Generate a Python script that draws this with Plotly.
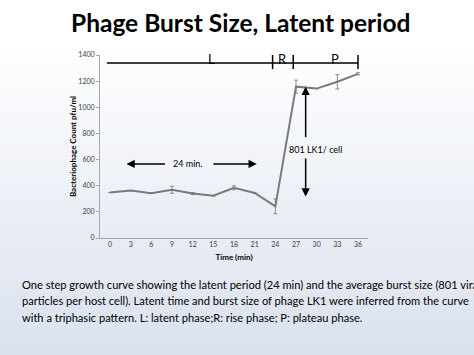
import plotly.graph_objects as go

# ---- data ----
time_min = [0, 3, 6, 9, 12, 15, 18, 21, 24, 27, 30, 33, 36]
count_pfu = [348, 363, 343, 369, 340, 323, 384, 344, 242, 1158, 1143, 1195, 1256]
err_pfu = [0, 0, 0, 27, 8, 0, 15, 0, 57, 50, 0, 55, 8]
x_ticks = [0, 3, 6, 9, 12, 15, 18, 21, 24, 27, 30, 33, 36]
y_ticks = [0, 200, 400, 600, 800, 1000, 1200, 1400]
phase_labels = ["L", "R", "P"]

W, H = 474, 355
ML, MR, MT, MB = 100, 106, 55, 117
PW, PH = W - ML - MR, H - MT - MB

def py(px):  # pixel y -> paper y
    return (H - MB - px) / PH

def pxx(px):  # pixel x -> paper x
    return (px - ML) / PW

FONT = "Lato"
fig = go.Figure()

fig.add_trace(go.Scatter(
    x=time_min, y=count_pfu, mode="lines",
    line=dict(color="#7a7a7a", width=2),
    error_y=dict(type="data", array=err_pfu, visible=True,
                 color="#8c8c8c", thickness=1, width=2),
    hoverinfo="skip", showlegend=False,
))

shapes = []
# background gradient (white top -> light blue-grey bottom)
n = 40
top_px, bot_px = 40, H
c0, c1 = (255, 255, 255), (218, 225, 238)
for i in range(n):
    a = top_px + (bot_px - top_px) * i / n
    b = top_px + (bot_px - top_px) * (i + 1) / n
    t = (i + 0.5) / n
    col = tuple(round(c0[k] + (c1[k] - c0[k]) * t) for k in range(3))
    shapes.append(dict(type="rect", xref="paper", yref="paper",
                       x0=pxx(0), x1=pxx(W), y0=py(b + 0.5), y1=py(a),
                       fillcolor="rgb(%d,%d,%d)" % col,
                       line=dict(width=0), layer="below"))

# phase bracket
blk = dict(color="black", width=1.5)
shapes.append(dict(type="line", xref="x", yref="y", x0=-0.45, x1=36, y0=1338, y1=1338, line=blk))
for xv in (23.6, 26.6, 36):
    shapes.append(dict(type="line", xref="x", yref="y", x0=xv, x1=xv, y0=1292, y1=1400, line=blk))

annotations = []
# phase labels
for lab, xv in zip(phase_labels, (14.8, 25.0, 32.6)):
    annotations.append(dict(x=xv, y=1372, xref="x", yref="y", text=lab, showarrow=False,
                            xanchor="center", yanchor="middle",
                            font=dict(family=FONT, size=13, color="black")))

def arrow(x0, y0, x1, y1):
    annotations.append(dict(x=x1, y=y1, ax=x0, ay=y0, xref="x", yref="y", axref="x", ayref="y",
                            text="", showarrow=True, arrowhead=2, arrowsize=1.1,
                            arrowwidth=1.5, arrowcolor="black", standoff=0, startstandoff=0))

arrow(8.2, 567, 2.4, 567)
arrow(14.8, 567, 21.3, 567)
arrow(28.4, 759, 28.4, 1158)
arrow(28.4, 619, 28.4, 318)
annotations.append(dict(x=11.3, y=567, xref="x", yref="y", text="24 min.", showarrow=False,
                        xanchor="center", yanchor="middle",
                        font=dict(family=FONT, size=9, color="black")))
annotations.append(dict(x=29.8, y=675, xref="x", yref="y", text="801 LK1/ cell", showarrow=False,
                        xanchor="center", yanchor="middle",
                        font=dict(family=FONT, size=9, color="black")))

# title
annotations.append(dict(x=pxx(240), y=py(22), xref="paper", yref="paper",
                        xanchor="center", yanchor="middle",
                        text="<b>Phage Burst Size, Latent period</b>", showarrow=False,
                        font=dict(family=FONT, size=24.5, color="black")))
# caption
caption = ["One step growth curve showing the latent period (24 min) and the average burst size (801 viral",
           "particles per host cell). Latent time and burst size of phage LK1 were inferred from the curve",
           "with a triphasic pattern. L: latent phase;R: rise phase; P: plateau phase."]
for i, line in enumerate(caption):
    annotations.append(dict(x=pxx(20), y=py(284 + 16.5 * i), xref="paper", yref="paper",
                            xanchor="left", yanchor="middle", text=line, showarrow=False,
                            font=dict(family=FONT, size=11.1, color="black")))

fig.update_layout(
    width=W, height=H, margin=dict(l=ML, r=MR, t=MT, b=MB, autoexpand=False),
    paper_bgcolor="white", plot_bgcolor="rgba(0,0,0,0)",
    shapes=shapes, annotations=annotations, showlegend=False,
    font=dict(family=FONT),
)
fig.update_xaxes(range=[-1.45, 37.45], tickvals=x_ticks, ticktext=[str(v) for v in x_ticks],
                 automargin=False,
                 showgrid=False, zeroline=False, showline=True, linecolor="#a6a6a6", linewidth=1,
                 ticks="", tickfont=dict(family=FONT, size=7, color="#404040"),
                 title=dict(text="<b>Time (min)</b>", font=dict(family=FONT, size=8, color="black"),
                            standoff=6))
fig.update_yaxes(range=[0, 1400], tickvals=y_ticks, showgrid=False, zeroline=False,
                 automargin=False,
                 showline=True, linecolor="#a6a6a6", linewidth=1, ticks="outside", ticklen=3,
                 tickcolor="#a6a6a6", tickfont=dict(family=FONT, size=7, color="#404040"),
                 title=dict(text="<b>Bacteriophage Count pfu/ml</b>",
                            font=dict(family=FONT, size=8, color="black"), standoff=0))

fig.write_html("out.html", config={"displayModeBar": False},
               post_script="document.body.style.margin='0';document.body.style.overflow='hidden';")
